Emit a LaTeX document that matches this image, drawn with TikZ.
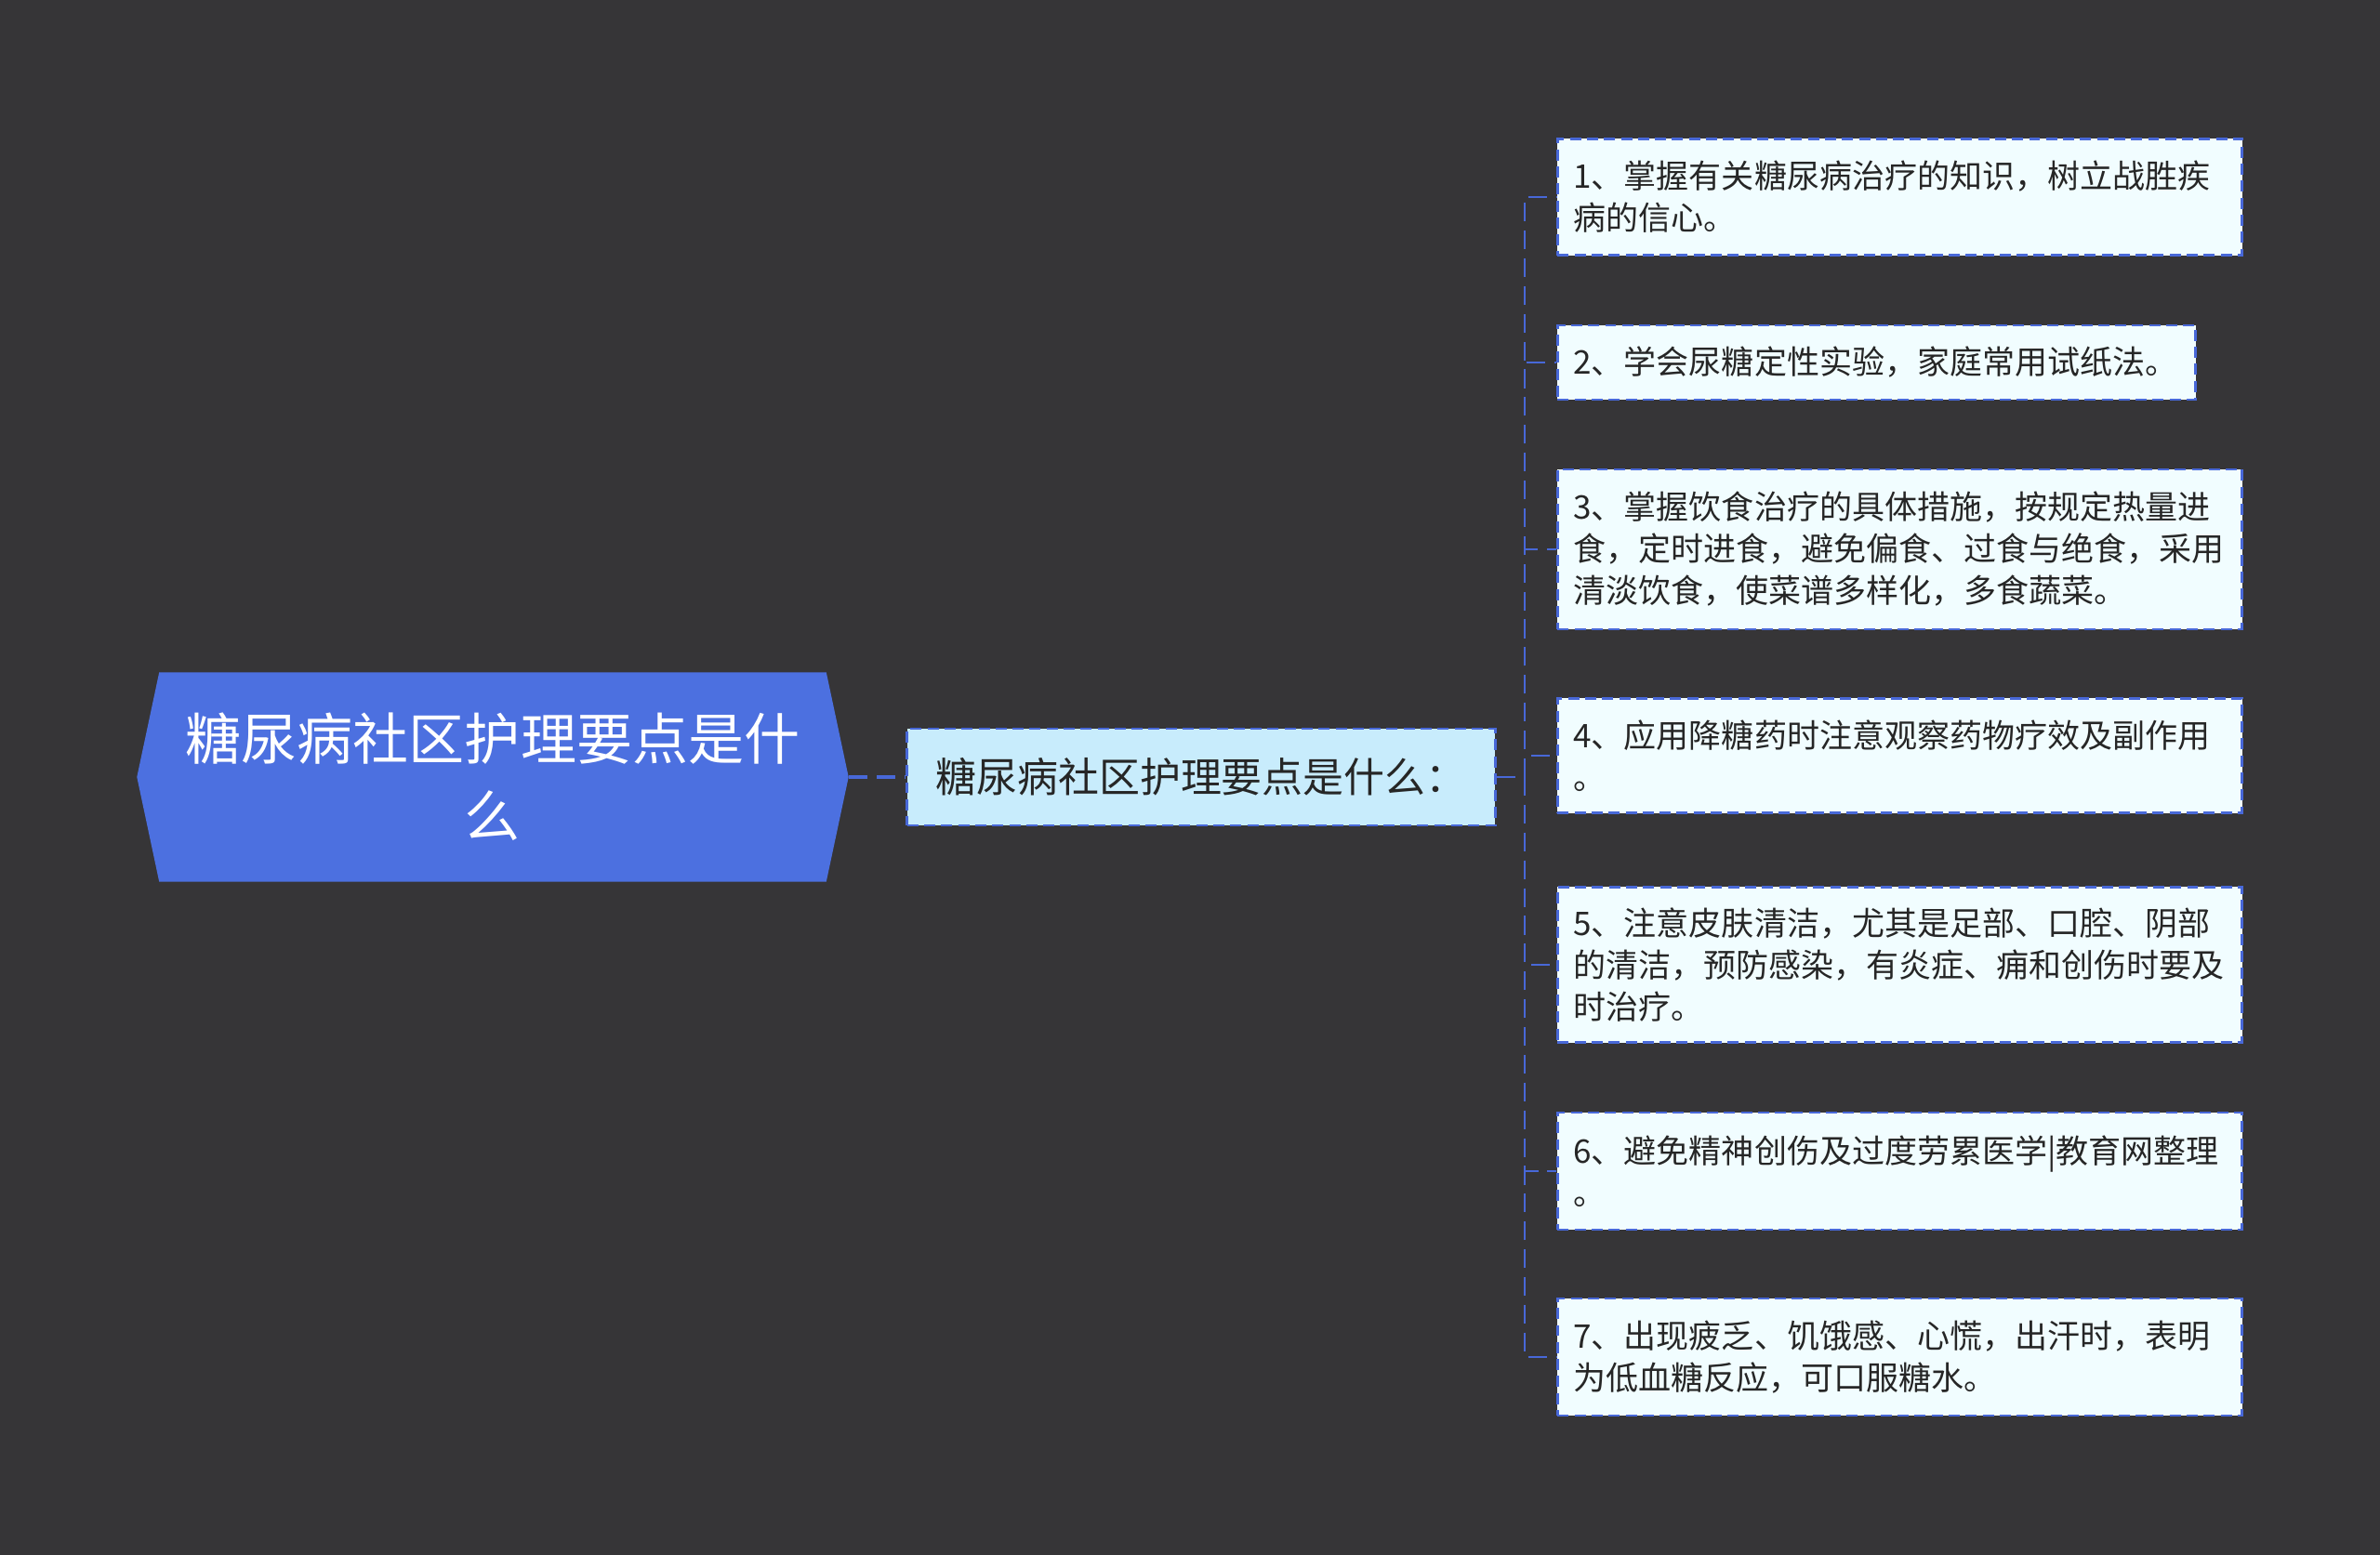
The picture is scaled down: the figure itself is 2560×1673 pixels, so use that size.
\documentclass[tikz,border=0pt]{standalone}
\usepackage{fontspec}
\setmainfont{Noto Sans CJK SC}
\usetikzlibrary{shapes.symbols}
\definecolor{bgdark}{RGB}{54,53,55}
\definecolor{rootblue}{RGB}{76,112,224}
\definecolor{lineblue}{RGB}{72,104,216}
\definecolor{midfill}{RGB}{200,236,252}
\definecolor{leaffill}{RGB}{241,253,255}
\definecolor{inkdark}{RGB}{38,38,38}

\begin{document}
\begin{tikzpicture}[x=0.01cm, y=-0.01cm,
	root/.style={shape=signal, signal to=west and east, signal pointer angle=156, fill=rootblue, text=white, minimum width=7.65cm, minimum height=2.25cm, inner sep=0pt, align=center, font=\fontsize{17.07pt}{23.6pt}\selectfont},
	mid/.style={draw=lineblue, line width=0.8pt, dash pattern=on 3.4pt off 1.8pt, fill=midfill, text=inkdark, minimum width=6.32cm, minimum height=1.04cm, inner sep=0pt, font=\fontsize{12.5pt}{15pt}\selectfont},
	leaf/.style={draw=lineblue, line width=0.8pt, dash pattern=on 3.4pt off 1.8pt, fill=leaffill, text=inkdark, anchor=west, text width=7.02cm, inner xsep=0.17cm, inner ysep=0pt, align=left, font=\fontsize{9.96pt}{12.8pt}\selectfont},
	link/.style={draw=lineblue, line width=0.8pt, dash pattern=on 5.7pt off 2.8pt}]
	\fill[bgdark] (0,0) rectangle (2560,1673);
	% root and its one child
	\node[root] (root) at (530,836) {糖尿病社区护理要点是什\\么};
	\node[mid] (mid) at (1292,836) {糖尿病社区护理要点是什么：};
	% the seven points
	\node[leaf, minimum height=1.25cm] (l1) at (1674,212) {1、掌握有关糖尿病治疗的知识，树立战胜疾\\病的信心。};
	\node[leaf, text width=6.52cm, minimum height=0.8cm] (l2) at (1674,390) {2、学会尿糖定性实验，家庭常用试纸法。};
	\node[leaf, minimum height=1.72cm] (l3) at (1674,591) {3、掌握饮食治疗的具体措施，按规定热量进\\食，定时进食，避免偏食、过食与绝食，采用\\清淡饮食，使菜谱多样化，多食蔬菜。};
	\node[leaf, minimum height=1.23cm] (l4) at (1674,813) {4、应用降糖药时注意观察药物疗效及副作用\\。};
	\node[leaf, minimum height=1.67cm] (l5) at (1674,1038) {5、注意皮肤清洁，尤其是足部、口腔、阴部\\的清洁，预防感染，有炎症、痈和创伤时要及\\时治疗。};
	\node[leaf, minimum height=1.26cm] (l6) at (1674,1260) {6、避免精神创伤及过度劳累医学|教育网整理\\。};
	\node[leaf, minimum height=1.26cm] (l7) at (1674,1460) {7、出现疲乏、饥饿感、心慌，出汗时，表明\\为低血糖反应，可口服糖水。};
	% connectors
	\coordinate (bus) at (1640,836);
	\draw[link, line width=1.2pt] (root.east) -- (mid.west);
	\draw[link] (mid.east) -- (bus);
	\foreach \n in {1,...,7}
		\draw[link] (bus) |- (l\n.west);
\end{tikzpicture}
\end{document}
